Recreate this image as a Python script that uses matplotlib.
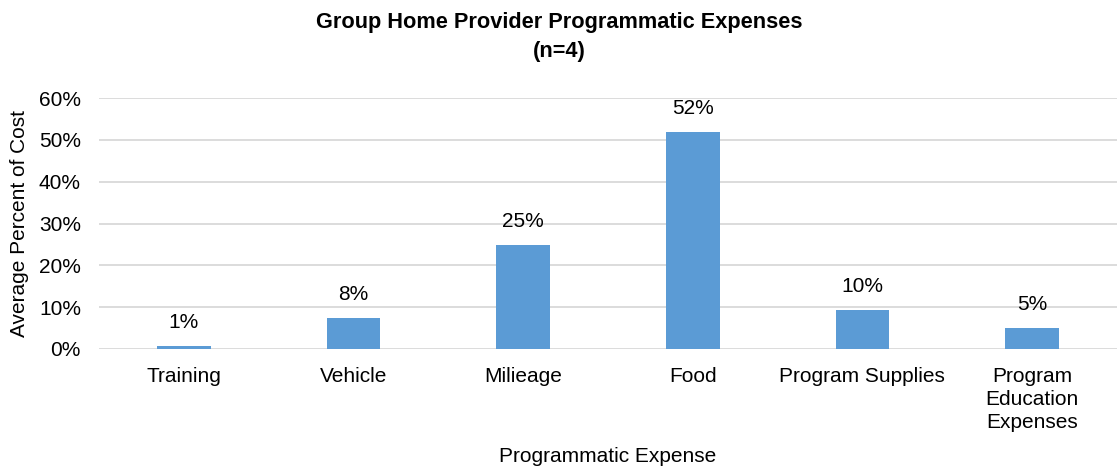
import numpy as np
import matplotlib.pyplot as plt

plt.rcParams['font.family'] = ['Liberation Sans', 'DejaVu Sans']

categories = ['Training', 'Vehicle', 'Milieage', 'Food', 'Program Supplies',
              'Program\nEducation\nExpenses']
values = [0.8, 7.5, 24.9, 51.9, 9.4, 5.0]
labels = ['1%', '8%', '25%', '52%', '10%', '5%']

fig = plt.figure(figsize=(11.19, 4.69), dpi=100)
ax = fig.add_axes([0.0885, 0.2559, 0.9095, 0.5351])

x = np.arange(len(categories))
bars = ax.bar(x, values, width=0.316, color='#5b9bd5', zorder=3)

for b, lab in zip(bars, labels):
    ax.text(b.get_x() + b.get_width() / 2, b.get_height() + 3.3, lab,
            ha='center', va='bottom', fontsize=15, color='#000000')

ax.set_xlim(-0.5, len(categories) - 0.5)
ax.set_ylim(0, 60)
ax.set_yticks(np.arange(0, 61, 10))
ax.set_yticklabels([f'{v}%' for v in range(0, 61, 10)])
ax.set_xticks(x)
ax.set_xticklabels(categories, linespacing=1.25)
ax.tick_params(axis='both', length=0, labelsize=15, colors='#000000')
ax.tick_params(axis='x', pad=13)
ax.tick_params(axis='y', pad=13)
ax.grid(axis='y', color='#d9d9d9', linewidth=1.3, zorder=0)
for s in ax.spines.values():
    s.set_visible(False)

ax.set_xlabel('Programmatic Expense', fontsize=15, labelpad=11)
ax.set_ylabel('Average Percent of Cost', fontsize=15, labelpad=7)

fig.text(0.5, 0.975, 'Group Home Provider Programmatic Expenses\n(n=4)',
         ha='center', va='top', fontsize=15.7, fontweight='bold', linespacing=1.5)

fig.savefig('out.png', dpi=100)
